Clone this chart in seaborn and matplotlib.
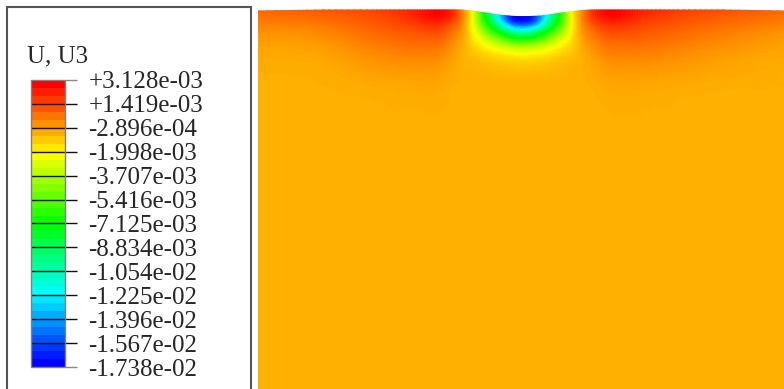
import matplotlib
matplotlib.use('Agg')
import matplotlib.pyplot as plt
import matplotlib.tri as mtri
from matplotlib.colors import ListedColormap, Normalize
from matplotlib.patches import Rectangle
import seaborn as sns
import numpy as np

sns.set_theme(style='white')
plt.rcParams['font.family'] = ['Liberation Serif', 'DejaVu Serif']

# Legend of the contour plot
title = 'U, U3'
tick_values = [3.128e-03, 1.419e-03, -2.896e-04, -1.998e-03, -3.707e-03, -5.416e-03,
               -7.125e-03, -8.834e-03, -1.054e-02, -1.225e-02, -1.396e-02, -1.567e-02,
               -1.738e-02]
tick_labels = ['+3.128e-03', '+1.419e-03', '-2.896e-04', '-1.998e-03', '-3.707e-03',
               '-5.416e-03', '-7.125e-03', '-8.834e-03', '-1.054e-02', '-1.225e-02',
               '-1.396e-02', '-1.567e-02', '-1.738e-02']

# Node positions (mm): x across the plate, depth below the deformed surface
x_nodes = [-2.64, -2.00, -1.50, -1.15, -0.95, -0.83, -0.70, -0.60, -0.50, -0.40,
           -0.30, -0.20, -0.10, 0.00, 0.10, 0.20, 0.30, 0.40, 0.50, 0.60,
           0.70, 0.87, 1.00, 1.20, 1.55, 2.00, 2.62]
depth_nodes = [0.00, 0.05, 0.10, 0.16, 0.23, 0.31, 0.40, 0.50, 0.62, 0.80, 1.10,
               1.50, 2.20, 3.79]
# Indentation of the top surface (mm) at each x node
surface_drop = [0.010, 0.0, 0.0, 0.0, 0.0, 0.0, 0.0, 0.0, 0.010, 0.025,
                0.040, 0.055, 0.063, 0.067, 0.064, 0.060, 0.045, 0.030, 0.017, 0.005,
                0.0, 0.0, 0.0, 0.0, 0.0, 0.0, 0.010]

# Nodal U3 values (x 1e-3), one list per depth row
u3_d000 = [1.0, 1.3, 1.7, 2.3, 2.85, 3.1, 2.4, 0.4, -1.9, -6.2, -10.0, -14.0, -16.9, -17.38,
           -16.9, -14.0, -10.0, -6.2, -1.9, 0.2, 2.0, 3.1, 2.9, 2.4, 1.9, 1.5, 1.0]
u3_d005 = [0.8, 1.1, 1.55, 2.2, 2.8, 3.05, 2.3, 0.7, -2.0, -5.9, -9.4, -13.0, -16.2, -16.8,
           -16.2, -13.0, -9.4, -5.9, -2.0, 0.4, 2.0, 3.05, 2.85, 2.3, 1.75, 1.3, 0.8]
u3_d010 = [0.6, 0.9, 1.4, 1.95, 2.5, 2.6, 1.9, 0.5, -2.0, -5.4, -8.2, -11.1, -13.4, -14.0,
           -13.4, -11.1, -8.2, -5.4, -2.0, 0.3, 1.7, 2.6, 2.5, 2.0, 1.55, 1.1, 0.6]
u3_d016 = [0.35, 0.6, 1.2, 1.65, 2.0, 2.0, 1.3, 0.25, -1.9, -4.4, -6.5, -8.1, -9.8, -10.3,
           -9.8, -8.1, -6.5, -4.4, -1.9, 0.15, 1.2, 2.0, 2.0, 1.7, 1.3, 0.85, 0.35]
u3_d023 = [0.1, 0.35, 0.95, 1.3, 1.5, 1.5, 0.8, 0.0, -1.6, -3.1, -4.4, -5.4, -6.3, -6.6,
           -6.3, -5.4, -4.4, -3.1, -1.6, -0.05, 0.75, 1.5, 1.5, 1.35, 1.0, 0.6, 0.1]
u3_d031 = [-0.1, 0.1, 0.7, 1.0, 1.05, 1.0, 0.4, -0.25, -1.25, -2.0, -2.6, -2.95, -3.2, -3.3,
           -3.2, -2.95, -2.6, -2.0, -1.25, -0.25, 0.4, 1.0, 1.05, 1.0, 0.75, 0.35, -0.1]
u3_d040 = [-0.25, -0.1, 0.4, 0.65, 0.65, 0.6, 0.1, -0.4, -0.9, -1.2, -1.4, -1.5, -1.6, -1.65,
           -1.6, -1.5, -1.4, -1.2, -0.9, -0.4, 0.1, 0.6, 0.65, 0.65, 0.45, 0.1, -0.25]
u3_d050 = [-0.35, -0.25, 0.15, 0.3, 0.3, 0.25, -0.15, -0.45, -0.6, -0.7, -0.78, -0.82, -0.86, -0.88,
           -0.86, -0.82, -0.78, -0.7, -0.6, -0.45, -0.15, 0.25, 0.3, 0.3, 0.15, -0.1, -0.35]
u3_d062 = [-0.4, -0.35, -0.1, 0.0, 0.0, -0.05, -0.3, -0.42, -0.44, -0.48, -0.5, -0.52, -0.52, -0.52,
           -0.52, -0.52, -0.5, -0.48, -0.44, -0.42, -0.3, -0.05, 0.0, 0.0, -0.1, -0.25, -0.4]
u3_d080 = [-0.41, -0.41, -0.35, -0.3, -0.28, -0.3, -0.4, -0.41, -0.41, -0.42, -0.42, -0.42, -0.42, -0.42,
           -0.42, -0.42, -0.42, -0.42, -0.41, -0.41, -0.4, -0.3, -0.28, -0.3, -0.35, -0.4, -0.41]
u3_d110 = [-0.41] * 27
u3_d150 = [-0.41] * 27
u3_d220 = [-0.41] * 27
u3_d379 = [-0.41] * 27

rows = [u3_d000, u3_d005, u3_d010, u3_d016, u3_d023, u3_d031, u3_d040, u3_d050,
        u3_d062, u3_d080, u3_d110, u3_d150, u3_d220, u3_d379]
u3 = np.array(rows) * 1e-3

vmin, vmax = tick_values[-1], tick_values[0]

# Abaqus-like rainbow
spectrum = ['#0000ff', '#00ffff', '#00ff00', '#ffff00', '#ff0000']
field_cmap = sns.blend_palette(spectrum, as_cmap=True)
band_cmap = ListedColormap(sns.blend_palette(spectrum, n_colors=36))

# Build the structured mesh on the deformed shape
nx, ny = len(x_nodes), len(depth_nodes)
X = np.tile(np.array(x_nodes), (ny, 1))
Y = -(np.array(depth_nodes)[:, None] + np.array(surface_drop)[None, :])
triangles = []
for i in range(ny - 1):
    for j in range(nx - 1):
        a = i * nx + j
        b, c, d = a + 1, a + nx, a + nx + 1
        triangles.append([a, b, d])
        triangles.append([a, d, c])
tri = mtri.Triangulation(X.ravel(), Y.ravel(), triangles)
z = u3.ravel()
refiner = mtri.UniformTriRefiner(tri)
tri_f, z_f = refiner.refine_field(z, triinterpolator=mtri.CubicTriInterpolator(tri, z, kind='geom'),
                                  subdiv=3)
z_f = np.clip(z_f, vmin, vmax)

fig = plt.figure(figsize=(7.84, 3.89), dpi=100)

# Contour field
ax = fig.add_axes([258 / 784, 0, 526 / 784, 381 / 389])
ax.tripcolor(tri_f, z_f, shading='gouraud', cmap=field_cmap, vmin=vmin, vmax=vmax)
ax.set_xlim(x_nodes[0], x_nodes[-1])
ax.set_ylim(-3.79, 0.02)
ax.set_axis_off()

# Legend frame
frame = Rectangle((7 / 784, -0.05), 244 / 784, 1.05 - 7 / 389, transform=fig.transFigure,
                  fill=False, edgecolor='#555555', lw=1.5, clip_on=False)
fig.patches.append(frame)
fig.text(27 / 784, 1 - 56 / 389, title, fontsize=18, va='center', ha='left')

# Colour bar
cax = fig.add_axes([31 / 784, 1 - 367 / 389, 34 / 784, 287 / 389])
sm = plt.cm.ScalarMappable(norm=Normalize(vmin, vmax), cmap=band_cmap)
cb = fig.colorbar(sm, cax=cax, ticks=tick_values)
cb.set_ticklabels(tick_labels)
cb.ax.tick_params(length=0, pad=17, labelsize=18)
cb.outline.set_edgecolor('#808080')
cb.outline.set_linewidth(1.0)
cax.hlines(tick_values[1:-1], 0, 1.35, transform=cax.get_yaxis_transform(),
           colors='#111111', lw=1.0, clip_on=False)
cax.hlines([tick_values[0], tick_values[-1]], 1.0, 1.35, transform=cax.get_yaxis_transform(),
           colors='#888888', lw=1.0, clip_on=False)

fig.savefig('out.png', dpi=100)
